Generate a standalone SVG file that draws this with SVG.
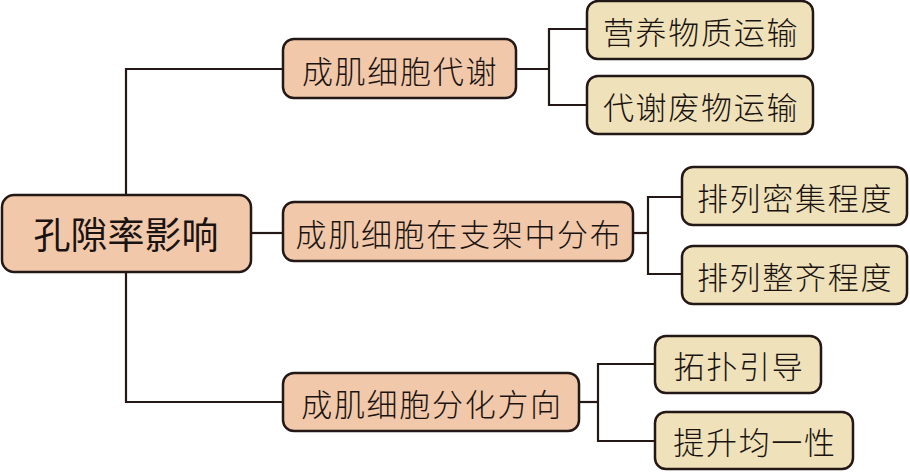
<svg xmlns="http://www.w3.org/2000/svg" width="910" height="472" viewBox="0 0 910 472">
  <style>
    .conn { fill: none; stroke: #231815; stroke-width: 2.2; }
    .root { fill: #f1c9aa; stroke: #231815; stroke-width: 2.5; }
    .branch { fill: #f1c9aa; stroke: #231815; stroke-width: 2.5; }
    .leaf { fill: #efe2ba; stroke: #231815; stroke-width: 2.5; }
    text { font-family: "Noto Sans CJK SC", "Noto Sans", sans-serif; fill: #1a1311; text-anchor: middle; dominant-baseline: central; }
    .t-root { font-size: 37px; }
    .t { font-size: 31px; letter-spacing: 1.7px; font-weight: 300; }
  </style>
  <rect width="910" height="472" fill="#ffffff"/>
  <g id="connectors">
    <path class="conn" d="M283,69 H126 V402 H283"/>
    <path class="conn" d="M251,233 H283"/>
    <path class="conn" d="M516,69 H549"/>
    <path class="conn" d="M587,29 H549 V105 H587"/>
    <path class="conn" d="M633,233 H648"/>
    <path class="conn" d="M682,197 H648 V274 H682"/>
    <path class="conn" d="M579,402 H598"/>
    <path class="conn" d="M655,364 H598 V441 H655"/>
  </g>
  <g id="root">
    <rect class="root" x="2" y="195" width="249" height="77" rx="12"/>
    <text class="t-root" x="126" y="233">孔隙率影响</text>
  </g>
  <g id="branch1">
    <rect class="branch" x="283" y="39" width="233" height="59" rx="11"/>
    <text class="t" x="400" y="69">成肌细胞代谢</text>
  </g>
  <g id="branch2">
    <rect class="branch" x="283" y="202" width="350" height="59" rx="11"/>
    <text class="t" x="459" y="232">成肌细胞在支架中分布</text>
  </g>
  <g id="branch3">
    <rect class="branch" x="283" y="373" width="296" height="58" rx="11"/>
    <text class="t" x="432" y="402">成肌细胞分化方向</text>
  </g>
  <g id="leaf1">
    <rect class="leaf" x="587" y="1" width="226" height="58" rx="11"/>
    <text class="t" x="701" y="30">营养物质运输</text>
  </g>
  <g id="leaf2">
    <rect class="leaf" x="587" y="76" width="226" height="58" rx="11"/>
    <text class="t" x="701" y="105">代谢废物运输</text>
  </g>
  <g id="leaf3">
    <rect class="leaf" x="682" y="167" width="225" height="58" rx="11"/>
    <text class="t" x="795" y="196">排列密集程度</text>
  </g>
  <g id="leaf4">
    <rect class="leaf" x="682" y="246" width="225" height="58" rx="11"/>
    <text class="t" x="795" y="275">排列整齐程度</text>
  </g>
  <g id="leaf5">
    <rect class="leaf" x="655" y="336" width="166" height="57" rx="11"/>
    <text class="t" x="739" y="364">拓扑引导</text>
  </g>
  <g id="leaf6">
    <rect class="leaf" x="655" y="412" width="198" height="57" rx="11"/>
    <text class="t" x="755" y="440">提升均一性</text>
  </g>
</svg>
